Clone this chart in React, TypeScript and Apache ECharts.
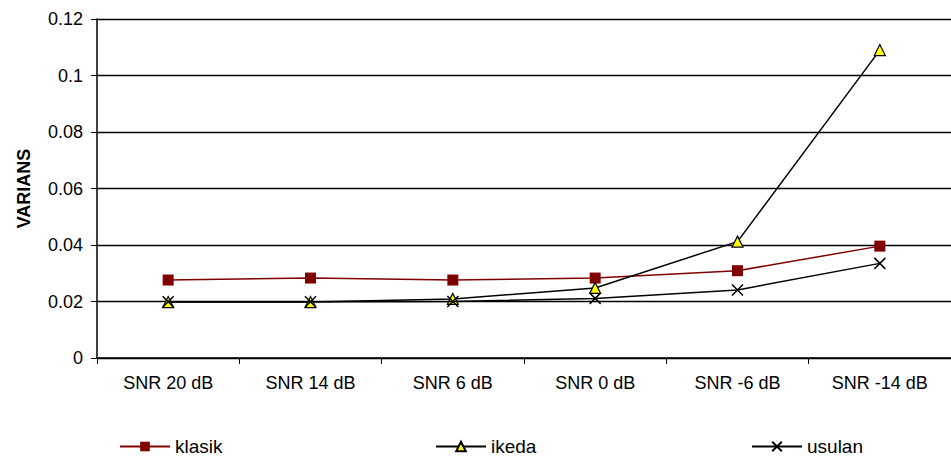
import React, { useEffect, useRef } from "react";
import * as echarts from "echarts";

const categories = ["SNR 20 dB", "SNR 14 dB", "SNR 6 dB", "SNR 0 dB", "SNR -6 dB", "SNR -14 dB"];
const klasik = [0.0276, 0.0283, 0.0276, 0.0283, 0.0309, 0.0396];
const ikeda = [0.0198, 0.0198, 0.0209, 0.0248, 0.0412, 0.109];
const usulan = [0.0199, 0.0199, 0.02, 0.0211, 0.0241, 0.0335];
const yTicks = [0, 0.02, 0.04, 0.06, 0.08, 0.1, 0.12];

const FONT = "Liberation Sans, Arial, sans-serif";

export default function App() {
  const ref = useRef<HTMLDivElement>(null);
  useEffect(() => {
    const chart = echarts.init(ref.current!, undefined, { renderer: "svg" });
    const legendText = { fontFamily: FONT, fontSize: 19, color: "#000" };
    const legendCommon = { itemWidth: 50, itemHeight: 12, itemGap: 2, textStyle: legendText, padding: 0 };
    chart.setOption({
      animation: false,
      backgroundColor: "#fff",
      grid: { left: 97, top: 19, width: 858, height: 339 },
      xAxis: {
        type: "category",
        data: categories,
        boundaryGap: true,
        axisLine: { lineStyle: { color: "#000", width: 1.5 } },
        axisTick: { show: true, length: 6, lineStyle: { color: "#000" } },
        axisLabel: { fontFamily: FONT, fontSize: 18, color: "#000", margin: 16 },
      },
      yAxis: {
        type: "value",
        min: yTicks[0],
        max: yTicks[yTicks.length - 1],
        interval: 0.02,
        name: "VARIANS",
        nameLocation: "middle",
        nameGap: 64,
        nameRotate: 90,
        nameTextStyle: { fontFamily: FONT, fontSize: 18, fontWeight: "bold", color: "#000" },
        axisLine: { show: true, lineStyle: { color: "#000", width: 1.5 } },
        axisTick: { show: true, length: 6, lineStyle: { color: "#000" } },
        axisLabel: {
          fontFamily: FONT,
          fontSize: 18,
          color: "#000",
          margin: 14,
          formatter: (v: number) => String(parseFloat(v.toFixed(4))),
        },
        splitLine: { show: true, lineStyle: { color: "#000", width: 1.3 } },
      },
      legend: [
        { ...legendCommon, data: ["klasik"], left: 119, top: 437 },
        { ...legendCommon, data: ["ikeda"], left: 435, top: 437 },
        { ...legendCommon, data: ["usulan"], left: 751, top: 437 },
      ],
      series: [
        {
          name: "klasik",
          type: "line",
          data: klasik,
          symbol: "rect",
          symbolSize: 11,
          lineStyle: { color: "#800000", width: 1.5 },
          itemStyle: { color: "#800000" },
          z: 3,
        },
        {
          name: "ikeda",
          type: "line",
          data: ikeda,
          symbol: "triangle",
          symbolSize: 11,
          lineStyle: { color: "#000", width: 1.5 },
          itemStyle: { color: "#ffff00", borderColor: "#000", borderWidth: 1.2 },
          z: 4,
        },
        {
          name: "usulan",
          type: "line",
          data: usulan,
          symbol: "path://M0,0L10,10M10,0L0,10",
          symbolSize: 11,
          lineStyle: { color: "#000", width: 1.5 },
          itemStyle: { color: "transparent", borderColor: "#000", borderWidth: 1.5 },
          z: 5,
        },
      ],
    });
    return () => chart.dispose();
  }, []);
  return <div ref={ref} style={{ width: 951, height: 461, position: "absolute", left: 0, top: 0 }} />;
}
